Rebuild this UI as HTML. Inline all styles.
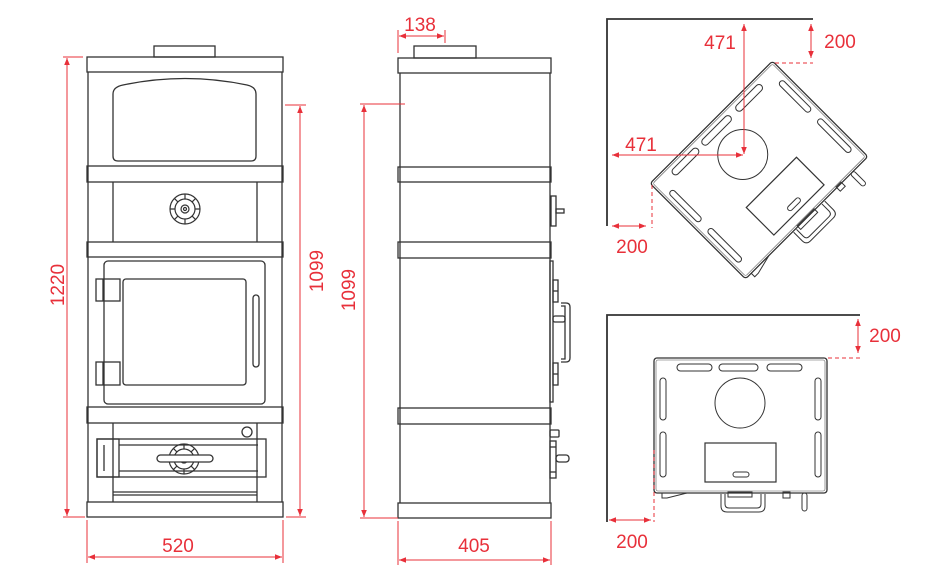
<!DOCTYPE html>
<html><head><meta charset="utf-8"><style>
html,body{margin:0;padding:0;background:#fff;}
svg{display:block;}
text{font-family:"Liberation Sans",sans-serif;font-size:19px;fill:#e8303a;}
</style></head><body>
<svg width="950" height="578" viewBox="0 0 950 578" xmlns="http://www.w3.org/2000/svg">
<defs>
<marker id="a" viewBox="0 0 10 10" refX="10" refY="5" markerWidth="9" markerHeight="7" orient="auto-start-reverse" markerUnits="userSpaceOnUse"><path d="M0,1 L10,5 L0,9 z" fill="#e8303a"/></marker>
<g id="knob" fill="none" stroke="#333" stroke-width="1.2">
<circle r="15"/><circle r="10"/><circle r="4"/><circle r="1.5"/>
<path d="M0,-10V-15M0,10V15M-10,0H-15M10,0H15M7.1,-7.1L10.6,-10.6M-7.1,7.1L-10.6,10.6M7.1,7.1L10.6,10.6M-7.1,-7.1L-10.6,-10.6"/>
</g>
<g id="plate">
<rect x="654" y="358" width="173" height="135" rx="3" fill="#fff" stroke="#333" stroke-width="1.3"/>
<rect x="656" y="360" width="169" height="131" rx="2" fill="none" stroke="#555" stroke-width="0.6"/>
<rect x="677" y="364" width="35" height="7" rx="3.5" fill="none" stroke="#333" stroke-width="1"/>
<rect x="719" y="364" width="39" height="7" rx="3.5" fill="none" stroke="#333" stroke-width="1"/>
<rect x="767" y="364" width="35" height="7" rx="3.5" fill="none" stroke="#333" stroke-width="1"/>
<rect x="660" y="378" width="6" height="42" rx="3" fill="none" stroke="#333" stroke-width="1"/>
<rect x="660" y="432" width="6" height="45" rx="3" fill="none" stroke="#333" stroke-width="1"/>
<rect x="815" y="378" width="6" height="42" rx="3" fill="none" stroke="#333" stroke-width="1"/>
<rect x="815" y="432" width="6" height="45" rx="3" fill="none" stroke="#333" stroke-width="1"/>
<circle cx="740" cy="403" r="25" fill="none" stroke="#333" stroke-width="1"/>
<rect x="705" y="443" width="71" height="39" fill="none" stroke="#333" stroke-width="1.2"/>
<rect x="733" y="472" width="16" height="5" rx="2.5" fill="none" stroke="#333" stroke-width="1"/>
<path d="M721,494 v12 q0,6 6,6 h32 q6,0 6,-6 v-12 M725,494 v10 q0,4 4,4 h28 q4,0 4,-4 v-10" fill="none" stroke="#333" stroke-width="1"/>
<rect x="728" y="492" width="24" height="5" fill="none" stroke="#333" stroke-width="1"/>
<rect x="783" y="492" width="7" height="6" fill="none" stroke="#333" stroke-width="1"/>
<rect x="802" y="493" width="5" height="18" rx="2.5" fill="none" stroke="#333" stroke-width="1"/>
<path d="M662,493 v5 h5 l20,-5" fill="none" stroke="#333" stroke-width="1"/>
</g>
</defs>

<g fill="none" stroke="#333" stroke-width="1.3">
<!-- FRONT VIEW -->
<rect x="154" y="46" width="61" height="11"/>
<rect x="87" y="57" width="196" height="15"/>
<line x1="88" y1="72" x2="88" y2="502"/><line x1="282" y1="72" x2="282" y2="502"/>
<path d="M113,94 q0,-7 10,-9 Q185,72 247,85 q9,2 9,9 v62 q0,5 -5,5 h-133 q-5,0 -5,-5 z"/>
<rect x="87" y="166" width="196" height="16"/>
<line x1="113" y1="182" x2="113" y2="242"/><line x1="257" y1="182" x2="257" y2="242"/>
<use href="#knob" x="185" y="209"/>
<rect x="87" y="242" width="196" height="15"/>
<rect x="104" y="261" width="161" height="143" rx="4"/>
<rect x="123" y="279" width="123" height="106" rx="3"/>
<rect x="96" y="279" width="24" height="22"/><line x1="103" y1="279" x2="103" y2="301"/>
<rect x="96" y="362" width="24" height="23"/><line x1="103" y1="362" x2="103" y2="385"/>
<rect x="253" y="295" width="6" height="72" rx="3"/>
<rect x="87" y="407" width="196" height="16"/>
<line x1="113" y1="423" x2="113" y2="502"/><line x1="257" y1="423" x2="257" y2="502"/>
<circle cx="247" cy="432" r="5"/>
<rect x="97" y="439" width="169" height="38"/>
<rect x="97" y="439" width="22" height="38"/><line x1="104" y1="445" x2="104" y2="471"/>
<line x1="119" y1="445" x2="258" y2="445"/><line x1="119" y1="471" x2="258" y2="471"/>
<use href="#knob" x="184" y="459"/>
<rect x="157" y="455" width="56" height="7" rx="3.5" fill="#fff"/>
<line x1="113" y1="492" x2="257" y2="492"/><line x1="113" y1="495" x2="257" y2="495"/>
<rect x="87" y="502" width="196" height="15"/>

<!-- SIDE VIEW -->
<rect x="414" y="46" width="62" height="12"/>
<rect x="398" y="58" width="153" height="15"/>
<line x1="400" y1="73" x2="400" y2="503"/><line x1="550" y1="73" x2="550" y2="503"/>
<rect x="398" y="167" width="153" height="15"/>
<rect x="551" y="196" width="5" height="30"/><rect x="556" y="209" width="8" height="4"/>
<rect x="398" y="242" width="153" height="16"/>
<rect x="550" y="261" width="3" height="141"/>
<rect x="553" y="280" width="5" height="22"/><line x1="553" y1="291" x2="558" y2="291"/>
<rect x="553" y="363" width="5" height="22"/><line x1="553" y1="374" x2="558" y2="374"/>
<path d="M561,303 h5 q4,0 4,4 v51 q0,4 -4,4 h-5 M561,306 h4 v53 h-4"/>
<rect x="553" y="316" width="12" height="6" rx="2"/>
<rect x="398" y="408" width="153" height="16"/>
<rect x="550" y="430" width="9" height="7" rx="1"/>
<rect x="550" y="441" width="6" height="37"/><line x1="550" y1="447" x2="556" y2="447"/><line x1="550" y1="472" x2="556" y2="472"/>
<rect x="556" y="455" width="13" height="7" rx="3"/>
<rect x="398" y="503" width="153" height="15"/>

<!-- WALLS -->
<path d="M607,226 V19 H813" stroke-width="1.8"/>
<path d="M607,522 V315 H860" stroke-width="1.8"/>
</g>

<use href="#plate"/>
<g transform="translate(759,170) rotate(-45) translate(-740.5,-425.5)"><use href="#plate"/></g>

<g stroke="#e8303a" stroke-width="1" fill="none">
<line x1="63" y1="57" x2="83" y2="57"/><line x1="63" y1="517" x2="85" y2="517"/>
<line x1="67" y1="58" x2="67" y2="516" marker-start="url(#a)" marker-end="url(#a)"/>
<line x1="285" y1="105" x2="306" y2="105"/><line x1="286" y1="517" x2="306" y2="517"/>
<line x1="300" y1="106" x2="300" y2="516" marker-start="url(#a)" marker-end="url(#a)"/>
<line x1="87" y1="520" x2="87" y2="563"/><line x1="283" y1="520" x2="283" y2="563"/>
<line x1="88" y1="557" x2="282" y2="557" marker-start="url(#a)" marker-end="url(#a)"/>

<line x1="398" y1="30" x2="398" y2="53"/><line x1="445" y1="30" x2="445" y2="43"/>
<line x1="399" y1="36" x2="444" y2="36" marker-start="url(#a)" marker-end="url(#a)"/>
<line x1="360" y1="104" x2="405" y2="104"/><line x1="360" y1="518" x2="398" y2="518"/>
<line x1="364" y1="105" x2="364" y2="517" marker-start="url(#a)" marker-end="url(#a)"/>
<line x1="398" y1="521" x2="398" y2="565"/><line x1="551" y1="521" x2="551" y2="565"/>
<line x1="399" y1="560" x2="550" y2="560" marker-start="url(#a)" marker-end="url(#a)"/>

<line x1="744" y1="24" x2="744" y2="154" marker-start="url(#a)" marker-end="url(#a)"/>
<line x1="612" y1="155" x2="743" y2="155" marker-start="url(#a)" marker-end="url(#a)"/>
<line x1="811" y1="24" x2="811" y2="58" marker-start="url(#a)" marker-end="url(#a)"/>
<line x1="775" y1="63" x2="813" y2="63" stroke-dasharray="4,3"/>
<line x1="612" y1="226" x2="646" y2="226" marker-start="url(#a)" marker-end="url(#a)"/>
<line x1="652" y1="185" x2="652" y2="228" stroke-dasharray="4,3"/>

<line x1="858" y1="319" x2="858" y2="353" marker-start="url(#a)" marker-end="url(#a)"/>
<line x1="828" y1="358" x2="861" y2="358" stroke-dasharray="4,3"/>
<line x1="609" y1="520" x2="651" y2="520" marker-start="url(#a)" marker-end="url(#a)"/>
<line x1="654" y1="450" x2="654" y2="522" stroke-dasharray="4,3"/>
</g>

<text x="64" y="285" text-anchor="middle" transform="rotate(-90 64 285)">1220</text>
<text x="323" y="271" text-anchor="middle" transform="rotate(-90 323 271)">1099</text>
<text x="355" y="290" text-anchor="middle" transform="rotate(-90 355 290)">1099</text>
<text x="178" y="552" text-anchor="middle">520</text>
<text x="474" y="552" text-anchor="middle">405</text>
<text x="420" y="31" text-anchor="middle">138</text>
<text x="720" y="49" text-anchor="middle">471</text>
<text x="641" y="151" text-anchor="middle">471</text>
<text x="840" y="48" text-anchor="middle">200</text>
<text x="632" y="253" text-anchor="middle">200</text>
<text x="885" y="342" text-anchor="middle">200</text>
<text x="632" y="548" text-anchor="middle">200</text>
</svg>
</body></html>
